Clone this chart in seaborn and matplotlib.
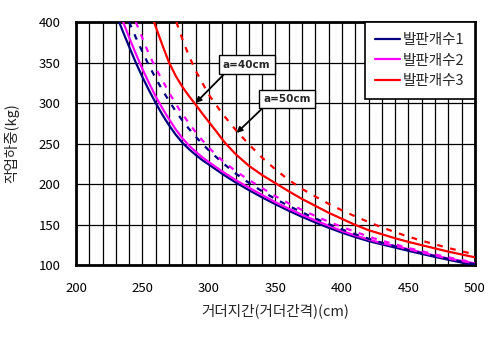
import matplotlib
matplotlib.use("Agg")
import matplotlib.pyplot as plt
import seaborn as sns
import pandas as pd

# ---- data (x = girder span [cm], y = working load [kg]) ----
# a = 40cm (solid lines)
x_blue_a40 = [232.5, 235, 240, 245, 250, 255, 260, 265, 270, 275, 280, 285, 290, 295, 300, 310, 320, 330, 340,
              350, 360, 370, 380, 390, 400, 410, 420, 430, 440, 450, 460, 470, 480, 490, 500]
y_blue_a40 = [400, 389.5, 369.5, 350, 332, 315.5, 300, 285.5, 272.5, 261, 251, 243, 236, 229.5, 224, 212.5,
              202, 192.5, 183.5, 175, 167, 159.5, 152.5, 146, 140, 134.5, 129.5, 125.5, 121.5, 117.5, 113.7,
              110, 106.5, 103, 99.7]

x_mag_a40 = [235.5, 240, 245, 250, 255, 260, 265, 270, 275, 280, 285, 290, 295, 300, 310, 320, 330, 340,
             350, 360, 370, 380, 390, 400, 410, 420, 430, 440, 450, 460, 470, 480, 490, 500]
y_mag_a40 = [400, 381, 361, 342, 324.5, 308, 293.5, 280, 267.5, 256.5, 247.5, 240, 233, 227, 215.5, 205,
             195.5, 186.5, 177.5, 169.5, 162, 155, 148.5, 142, 136.5, 131.5, 127, 123.5, 119.5, 115.5, 111.5,
             108, 105, 102]

x_red_a40 = [258.75, 260, 265, 270, 275, 280, 285, 290, 295, 300, 305, 312, 320, 330, 340, 350,
             360, 370, 380, 390, 400, 410, 420, 430, 440, 450, 460, 470, 480, 490, 500]
y_red_a40 = [400, 394, 371.5, 350, 333.5, 320, 308.5, 298, 287, 276.5, 266, 251, 237, 222.5, 211, 201,
             191, 181.5, 173, 164.5, 157, 149.5, 143, 138, 133, 128.5, 124.5, 120.5, 116.5, 113, 109.5]

# a = 50cm (dashed lines)
x_blue_a50 = [240, 245, 250, 255, 260, 265, 270, 275, 280, 285, 290, 295, 300, 310, 320, 330, 340, 350,
              360, 370, 380, 390, 400, 410, 420, 430, 440, 450, 460, 470, 480, 490, 500]
y_blue_a50 = [400, 381, 363, 346, 330.5, 316, 302.5, 290, 278.5, 268, 258.5, 249.5, 241.5, 226.5, 213, 201.5,
              191, 181.5, 173, 165, 157.5, 150.5, 144, 138, 132.5, 127.5, 123, 118.5, 114.5, 111, 107.5, 104, 101]

x_mag_a50 = [245, 250, 255, 260, 265, 270, 275, 280, 285, 290, 295, 300, 305, 310, 320, 330, 340, 350,
             360, 370, 380, 390, 400, 410, 420, 430, 440, 450, 460, 470, 480, 490, 500]
y_mag_a50 = [400, 380, 360, 343, 328, 313, 299, 286.5, 275, 264, 254, 245, 236.5, 229, 216, 205, 195, 185,
             176, 168, 160.5, 153.5, 147, 141, 135, 130, 125.5, 121, 117, 113, 109.5, 106, 103]

x_red_a50 = [275.5, 280, 285, 290, 300, 310, 320, 330, 340, 350, 360, 370, 380, 390, 400, 410, 420, 430,
             440, 450, 460, 470, 480, 490, 500]
y_red_a50 = [400, 379, 358, 340, 310, 287, 267, 249, 232.5, 218, 205, 194, 184.5, 175.5, 167.5, 160, 153,
             146.5, 140.5, 135, 130, 125.5, 121, 117, 113]

legend_labels = ["발판개수1", "발판개수2", "발판개수3"]
x_ticks = [200, 250, 300, 350, 400, 450, 500]
y_ticks = [100, 150, 200, 250, 300, 350, 400]
x_label = "거더지간(거더간격)(cm)"
y_label = "작업하중(kg)"
note_40 = "a=40cm"
note_50 = "a=50cm"

# ---- style ----
sns.set_style("white")
plt.rcParams['font.family'] = ['Noto Sans CJK KR', 'DejaVu Sans']

fig = plt.figure(figsize=(4.93, 3.37), dpi=100)
ax = fig.add_axes([0.154, 0.2136, 0.8095, 0.7211])

c_blue, c_mag, c_red = "#000080", "#FF00FF", "#FF0000"
dash = (2.6, 3.4)

series_solid = [(x_blue_a40, y_blue_a40, c_blue, legend_labels[0]),
                (x_mag_a40, y_mag_a40, c_mag, legend_labels[1]),
                (x_red_a40, y_red_a40, c_red, legend_labels[2])]
series_dash = [(x_blue_a50, y_blue_a50, c_blue),
               (x_mag_a50, y_mag_a50, c_mag),
               (x_red_a50, y_red_a50, c_red)]

for xs, ys, col, lab in series_solid:
    df = pd.DataFrame({"x": xs, "y": ys})
    sns.lineplot(data=df, x="x", y="y", ax=ax, color=col, lw=1.6, label=lab, sort=False,
                 estimator=None, zorder=3)
for xs, ys, col in series_dash:
    df = pd.DataFrame({"x": xs, "y": ys})
    l = sns.lineplot(data=df, x="x", y="y", ax=ax, color=col, lw=1.6, sort=False, estimator=None,
                     zorder=3, legend=False)
    l.lines[-1].set_dashes(dash)

ax.set_xlim(200, 500)
ax.set_ylim(100, 400)
ax.set_xticks(x_ticks)
ax.set_yticks(y_ticks)
ax.set_xticks(range(200, 501, 10), minor=True)
ax.grid(True, which="major", axis="y", color="black", lw=0.9)
ax.grid(True, which="both", axis="x", color="black", lw=0.9)
ax.set_axisbelow(True)
for s in ax.spines.values():
    s.set_color("black")
    s.set_linewidth(2.0)
ax.tick_params(axis="both", which="major", labelsize=9.5, direction="in", length=3, width=1,
               colors="black")
ax.tick_params(axis="y", which="major", pad=11)
ax.tick_params(axis="x", which="major", pad=12)
ax.tick_params(axis="x", which="minor", length=0)
ax.set_xlabel(x_label, fontsize=10.5, labelpad=6)
ax.set_ylabel(y_label, fontsize=10.5, labelpad=14)

handles, labels = ax.get_legend_handles_labels()
leg = ax.legend(handles[:3], labels[:3], loc="upper right", bbox_to_anchor=(1, 1), borderaxespad=0,
                fancybox=False, edgecolor="black", fontsize=10.5, handlelength=1.65, handletextpad=0.2,
                labelspacing=0.45, borderpad=0.75, framealpha=1)
leg.get_frame().set_linewidth(1.2)
leg.set_zorder(5)

bbox = dict(boxstyle="square,pad=0.4", fc="white", ec="black", lw=1.0)
ax.annotate(note_40, xy=(290, 300), xytext=(328.3, 347.4), ha="center", va="center",
            fontsize=7.5, fontweight="bold", family="DejaVu Sans", bbox=bbox, zorder=6,
            arrowprops=dict(arrowstyle="-|>", color="black", lw=1.3, mutation_scale=8,
                            relpos=(0.12, 0.0), shrinkA=0, shrinkB=0))
ax.annotate(note_50, xy=(320.8, 263), xytext=(358.7, 305.2), ha="center", va="center",
            fontsize=7.5, fontweight="bold", family="DejaVu Sans", bbox=bbox, zorder=6,
            arrowprops=dict(arrowstyle="-|>", color="black", lw=1.3, mutation_scale=8,
                            relpos=(0.08, 0.0), shrinkA=0, shrinkB=0))

fig.savefig("out.png", dpi=100)
